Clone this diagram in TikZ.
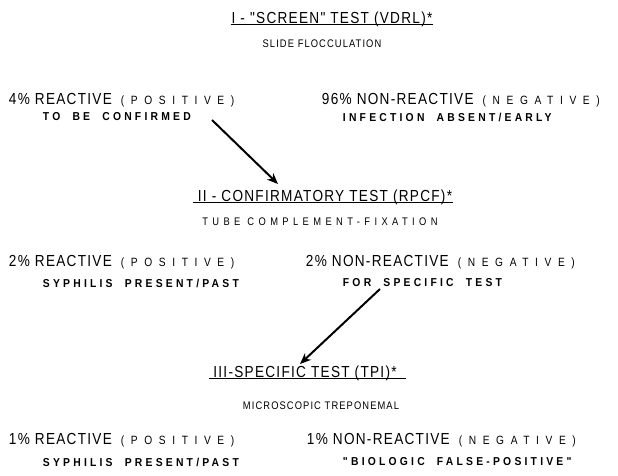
\documentclass[tikz,border=0pt]{standalone}
\usepackage{fontspec}
\usetikzlibrary{arrows.meta}

% narrow hand lettering used on the chart
\newfontfamily\headfont[FakeStretch=0.85,LetterSpace=8]{Liberation Sans}
\newfontfamily\capsfont[FakeStretch=0.85,LetterSpace=55]{Liberation Sans}
\newfontfamily\notefont[FakeStretch=0.9,LetterSpace=28,WordSpace=2]{Liberation Sans}
\newfontfamily\subfont[FakeStretch=0.85,LetterSpace=10]{Liberation Sans}
\newfontfamily\widesubfont[FakeStretch=0.85,LetterSpace=40]{Liberation Sans}

\newcommand{\smallword}[1]{\hspace{4pt}{\fontsize{12}{14}\capsfont #1}}

\tikzset{
	head/.style={inner sep=0.75pt, font=\fontsize{16}{19}\headfont},
	result/.style={anchor=west, inner sep=0.75pt, font=\fontsize{16}{19}\headfont},
	note/.style={anchor=west, inner sep=0.75pt, font=\fontsize{11.5}{13}\notefont\bfseries},
	sub/.style={inner sep=0.75pt, font=\fontsize{11}{13}\subfont},
	rule/.style={line width=1pt},
	flow/.style={line width=2pt, -{Stealth[length=11pt,width=9pt,inset=3.5pt]}}
}

\begin{document}
\begin{tikzpicture}[x=1pt,y=1pt,yscale=-1]
	\useasboundingbox (0,0) rectangle (618,475);

	% Stage I
	\node[head] (test1) at (332,19) {I - "SCREEN" TEST (VDRL)*};
	\draw[rule] ([yshift=-3pt]test1.south west) -- ([yshift=-3pt]test1.south east);
	\node[sub] (test1sub) at (322,44) {SLIDE FLOCCULATION};

	\node[result] (react1) at (8,100) {4\% REACTIVE \smallword{(POSITIVE)}};
	\node[note] (react1sub) at (42,117) {TO BE CONFIRMED};
	\node[result] (nonreact1) at (321,100) {96\% NON-REACTIVE \smallword{(NEGATIVE)}};
	\node[note] (nonreact1sub) at (342,117) {INFECTION ABSENT/EARLY};

	% Stage II
	\node[head] (test2) at (325,197) {II - CONFIRMATORY TEST (RPCF)*};
	\draw[rule] ([yshift=-3pt,xshift=-4pt]test2.south west) -- ([yshift=-3pt]test2.south east);
	\node[sub, font=\fontsize{11}{13}\widesubfont] (test2sub) at (320,222) {TUBE COMPLEMENT-FIXATION};

	\node[result] (react2) at (8,262) {2\% REACTIVE \smallword{(POSITIVE)}};
	\node[note] (react2sub) at (42,283) {SYPHILIS PRESENT/PAST};
	\node[result] (nonreact2) at (305,262) {2\% NON-REACTIVE \smallword{(NEGATIVE)}};
	\node[note] (nonreact2sub) at (342,283) {FOR SPECIFIC TEST};

	% Stage III
	\node[head] (test3) at (305,373) {III-SPECIFIC TEST (TPI)*};
	\draw[rule] ([yshift=-3pt,xshift=-3pt]test3.south west) -- ([yshift=-3pt,xshift=8pt]test3.south east);
	\node[sub] (test3sub) at (321,406) {MICROSCOPIC TREPONEMAL};

	\node[result] (react3) at (8,440) {1\% REACTIVE \smallword{(POSITIVE)}};
	\node[note] (react3sub) at (42,462) {SYPHILIS PRESENT/PAST};
	\node[result] (nonreact3) at (306,440) {1\% NON-REACTIVE \smallword{(NEGATIVE)}};
	\node[note] (nonreact3sub) at (342,462) {"BIOLOGIC FALSE-POSITIVE"};

	% arrows between the stages
	\coordinate (from1) at (212,120);
	\coordinate (to2) at (278,184);
	\coordinate (from2) at (380,289);
	\coordinate (to3) at (300,364);
	\draw[flow] (from1) -- (to2);
	\draw[flow] (from2) -- (to3);
\end{tikzpicture}
\end{document}
